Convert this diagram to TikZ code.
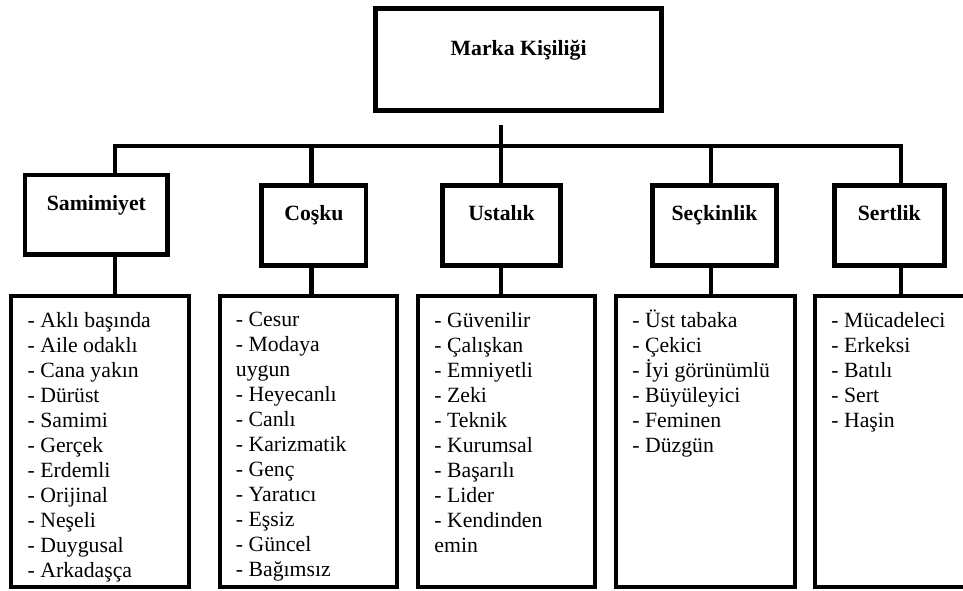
\documentclass[tikz,border=0pt]{standalone}
\usepackage{fontspec}
\setmainfont{Liberation Serif}
\usepackage{tikz}
\usetikzlibrary{positioning}

\begin{document}
\begin{tikzpicture}[
  topbox/.style={draw, line width=2.7pt, outer sep=0pt, inner ysep=0pt,
                 minimum width=5.56cm, minimum height=1.97cm,
                 text height=0.92cm, text depth=1.05cm,
                 font=\fontsize{12}{13.8}\selectfont\bfseries},
  catbox/.style={draw, line width=2.7pt, outer sep=0pt, inner ysep=0pt,
                 minimum height=1.55cm, text height=0.68cm, text depth=0.87cm,
                 font=\fontsize{12}{13.8}\selectfont\bfseries},
  listbox/.style={draw, line width=2.2pt, outer sep=0pt,
                  minimum width=3.44cm, minimum height=5.65cm},
  listtext/.style={anchor=north west, inner sep=0pt, align=left,
                   font=\fontsize{12}{13.8}\selectfont,
                   execute at begin node=\strut},
  link/.style={line width=2.4pt},
]
  \clip (0,0) rectangle (18.68,-11.446);

  \node[topbox] (marka) at (10.06,-1.15) {Marka Kişiliği};

  \node[catbox, minimum width=2.77cm] (samimiyet) at (1.87,-4.17) {Samimiyet};
  \node[catbox, minimum width=2.02cm] (cosku) at (6.09,-4.38) {Coşku};
  \node[catbox, minimum width=2.28cm] (ustalik) at (9.73,-4.38) {Ustalık};
  \node[catbox, minimum width=2.39cm] (seckinlik) at (13.86,-4.38) {Seçkinlik};
  \node[catbox, minimum width=2.13cm] (sertlik) at (17.25,-4.38) {Sertlik};

  \node[listbox] (liste1) at (1.94,-8.57) {};
  \node[listbox] (liste2) at (5.98,-8.57) {};
  \node[listbox] (liste3) at (9.83,-8.57) {};
  \node[listbox, minimum width=3.48cm] (liste4) at (13.69,-8.57) {};
  \node[listbox] (liste5) at (17.53,-8.57) {};

  \node[listtext] (ozellik1) at ([xshift=0.31cm,yshift=-0.31cm]liste1.north west) {
    - Aklı başında\\- Aile odaklı\\- Cana yakın\\- Dürüst\\- Samimi\\- Gerçek\\
    - Erdemli\\- Orijinal\\- Neşeli\\- Duygusal\\- Arkadaşça};
  \node[listtext] (ozellik2) at ([xshift=0.31cm,yshift=-0.31cm]liste2.north west) {
    - Cesur\\- Modaya\\uygun\\- Heyecanlı\\- Canlı\\- Karizmatik\\- Genç\\
    - Yaratıcı\\- Eşsiz\\- Güncel\\- Bağımsız};
  \node[listtext] (ozellik3) at ([xshift=0.31cm,yshift=-0.31cm]liste3.north west) {
    - Güvenilir\\- Çalışkan\\- Emniyetli\\- Zeki\\- Teknik\\- Kurumsal\\
    - Başarılı\\- Lider\\- Kendinden\\emin};
  \node[listtext] (ozellik4) at ([xshift=0.31cm,yshift=-0.25cm]liste4.north west) {
    - Üst tabaka\\- Çekici\\- İyi görünümlü\\- Büyüleyici\\- Feminen\\- Düzgün};
  \node[listtext] (ozellik5) at ([xshift=0.31cm,yshift=-0.31cm]liste5.north west) {
    - Mücadeleci\\- Erkeksi\\- Batılı\\- Sert\\- Haşin};

  \coordinate (kol1) at (2.23,-2.83);
  \coordinate (kol2) at (6.04,-2.83);
  \coordinate (kol4) at (13.79,-2.83);
  \coordinate (kol5) at (17.48,-2.83);
  \coordinate (govde) at (9.72,-2.43);

  \draw[link] (kol1 |- samimiyet.north) -- (kol1) -- (kol5) -- (kol5 |- sertlik.north);
  \draw[link] (govde) -- (govde |- ustalik.north);
  \draw[link] (kol2) -- (kol2 |- cosku.north);
  \draw[link] (kol4) -- (kol4 |- seckinlik.north);

  \draw[link] (samimiyet.south -| kol1) -- (kol1 |- liste1.north);
  \draw[link] (cosku.south -| kol2) -- (kol2 |- liste2.north);
  \draw[link] (ustalik.south -| govde) -- (govde |- liste3.north);
  \draw[link] (seckinlik.south -| kol4) -- (kol4 |- liste4.north);
  \draw[link] (sertlik.south -| kol5) -- (kol5 |- liste5.north);
\end{tikzpicture}
\end{document}
